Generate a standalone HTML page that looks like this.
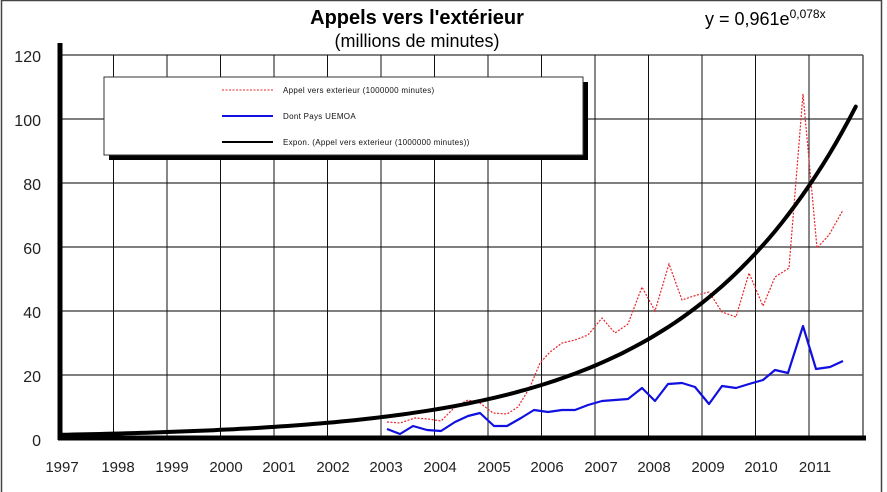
<!DOCTYPE html>
<html><head><meta charset="utf-8"><style>
html,body{margin:0;padding:0;background:#fff}
svg{display:block;font-family:"Liberation Sans",Arial,sans-serif}
</style></head><body>
<svg width="887" height="492" viewBox="0 0 887 492" xmlns="http://www.w3.org/2000/svg">
<rect x="1.5" y="0.5" width="880" height="495" fill="#fff" stroke="#444" stroke-width="1.5"/>
<text x="417" y="24" font-size="20" font-weight="bold" text-anchor="middle">Appels vers l'extérieur</text>
<text x="417" y="47" font-size="18" text-anchor="middle">(millions de minutes)</text>
<text x="705" y="25" font-size="18">y = 0,961e<tspan font-size="12" dy="-7">0,078x</tspan></text>
<g stroke="#555" stroke-width="1.5">
<line x1="60" y1="55" x2="863" y2="55"/>
<line x1="60" y1="119" x2="863" y2="119"/>
<line x1="60" y1="183" x2="863" y2="183"/>
<line x1="60" y1="247" x2="863" y2="247"/>
<line x1="60" y1="311" x2="863" y2="311"/>
<line x1="60" y1="375" x2="863" y2="375"/>
<line x1="863" y1="55" x2="863" y2="438"/>
</g>
<g stroke="#111" stroke-width="1">
<line x1="113.5" y1="55" x2="113.5" y2="438"/><line x1="167" y1="55" x2="167" y2="438"/>
<line x1="220.5" y1="55" x2="220.5" y2="438"/><line x1="274" y1="55" x2="274" y2="438"/>
<line x1="327.5" y1="55" x2="327.5" y2="438"/><line x1="381" y1="55" x2="381" y2="438"/>
<line x1="434.5" y1="55" x2="434.5" y2="438"/><line x1="488" y1="55" x2="488" y2="438"/>
<line x1="541.5" y1="55" x2="541.5" y2="438"/><line x1="595" y1="55" x2="595" y2="438"/>
<line x1="648.5" y1="55" x2="648.5" y2="438"/><line x1="702" y1="55" x2="702" y2="438"/>
<line x1="755.5" y1="55" x2="755.5" y2="438"/><line x1="809" y1="55" x2="809" y2="438"/>
</g>
<line x1="60" y1="43" x2="60" y2="440" stroke="#000" stroke-width="5"/>
<line x1="58" y1="438" x2="866" y2="438" stroke="#000" stroke-width="5"/>
<g font-size="16" text-anchor="end" fill="#222">
<text x="41" y="62">120</text><text x="41" y="126">100</text><text x="41" y="190">80</text>
<text x="41" y="254">60</text><text x="41" y="318">40</text><text x="41" y="382">20</text><text x="41" y="446">0</text>
</g>
<g font-size="15" text-anchor="middle" fill="#222">
<text x="62" y="472">1997</text><text x="118" y="472">1998</text><text x="172" y="472">1999</text>
<text x="226" y="472">2000</text><text x="279" y="472">2001</text><text x="333" y="472">2002</text>
<text x="386" y="472">2003</text><text x="440" y="472">2004</text><text x="494" y="472">2005</text>
<text x="547" y="472">2006</text><text x="601" y="472">2007</text><text x="654" y="472">2008</text>
<text x="708" y="472">2009</text><text x="761" y="472">2010</text><text x="815" y="472">2011</text>
</g>
<polyline fill="none" stroke="#e8242a" stroke-width="1.2" stroke-dasharray="2,1.5" points="387,422 400,423 415,418 428,419 441,421 455,407 468,400 480,403 493,413 507,414 518,407 530,387 540,363 550,352 562,343 575,340 588,335 602,318 615,333 628,324 642,287 655,311 669,264 682,300 697,295 709,292 722,312 736,317 749,273 763,306 775,277 789,268 803,94 817,248 829,235 843,210"/>
<polyline fill="none" stroke="#1010e0" stroke-width="2.2" stroke-linejoin="round" points="387,429 400,434 413,426 427,430 441,431 455,422 468,416 480,413 494,426 507,426 521,418 534,410 548,412 562,410 575,410 588,405 602,401 615,400 628,399 642,388 655,401 668,384 682,383 695,387 709,404 722,386 736,388 749,384 763,380 775,370 788,373 803,326 816,369 830,367 843,361"/>
<polyline id="expc" fill="none" stroke="#000" stroke-width="4" stroke-linecap="round" points=""/>
<rect x="109" y="82" width="479" height="78" fill="#000"/>
<rect x="104" y="77" width="479" height="78" fill="#fff" stroke="#333" stroke-width="1"/>
<line x1="222" y1="90" x2="273" y2="90" stroke="#e8242a" stroke-width="1" stroke-dasharray="2,1.5"/>
<line x1="222" y1="116" x2="273" y2="116" stroke="#1010e0" stroke-width="2"/>
<line x1="222" y1="142" x2="273" y2="142" stroke="#000" stroke-width="2"/>
<g font-size="8" fill="#111" letter-spacing="0.3">
<text x="283" y="93">Appel vers exterieur (1000000 minutes)</text>
<text x="283" y="119">Dont Pays UEMOA</text>
<text x="283" y="145">Expon. (Appel vers exterieur (1000000 minutes))</text>
</g>
<script>
var p=[];for(var k=0.5;k<=60.01;k+=0.5){var v=0.961*Math.exp(0.078*k);p.push((60+(k-0.5)*13.375).toFixed(1)+","+(438-v*3.2).toFixed(1));}
document.getElementById("expc").setAttribute("points",p.join(" "));
</script>
</svg>
</body></html>
